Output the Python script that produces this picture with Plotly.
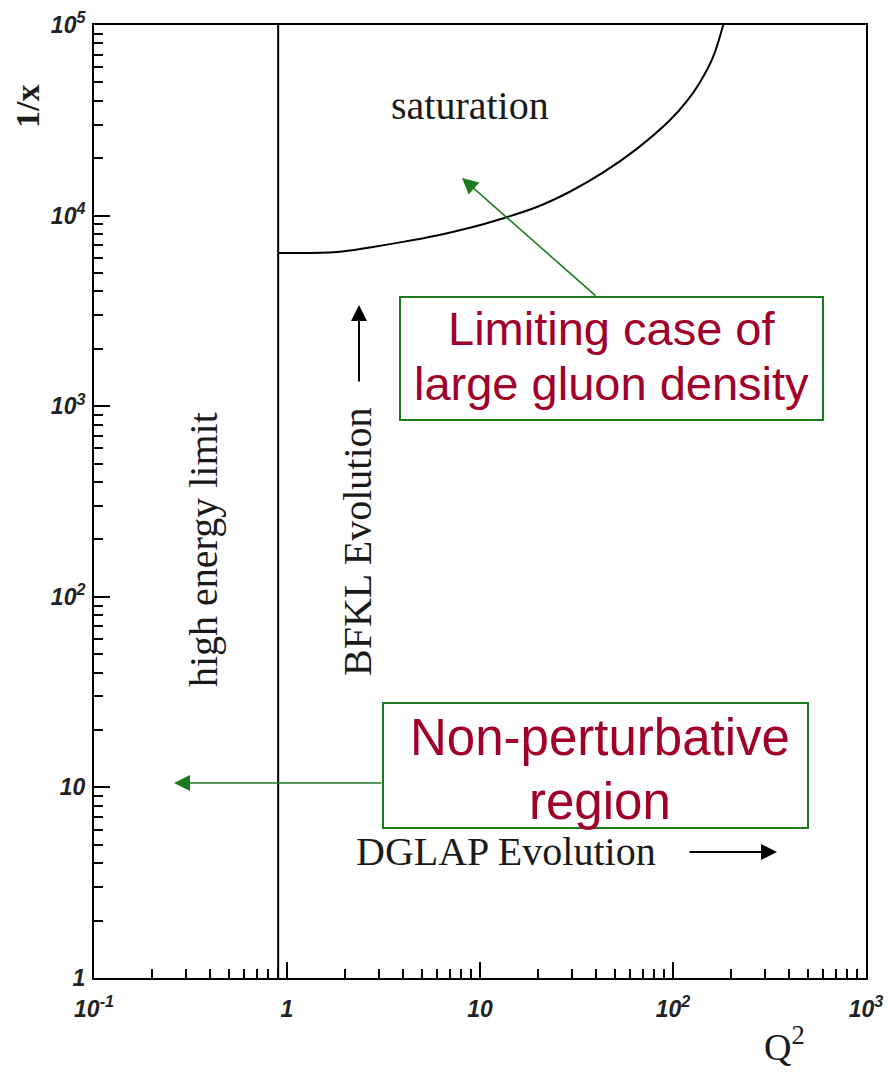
import plotly.graph_objects as go

# ---------------- data ----------------
# boundary between non-perturbative region and perturbative region (Q^2 ~ 0.9)
boundary_q2 = [0.9, 0.9]
boundary_inv_x = [1, 1e5]

# saturation boundary curve (Q^2, 1/x)
sat_q2 = [0.9, 1.82, 2.69, 3.99, 5.98, 8.87, 13.1, 19.7, 29.2, 43.3, 64.9, 96.3, 118.0, 138.0, 161.0, 182.0]
sat_inv_x = [6370, 6440, 6810, 7280, 7870, 8630, 9660, 11090, 13340, 16790, 22390, 31620, 39810, 50120, 67610, 100000]

x_tickvals = [0.1, 1, 10, 100, 1000]
x_ticktext = ["10<sup>-1</sup>", "1", "10", "10<sup>2</sup>", "10<sup>3</sup>"]
y_tickvals = [1, 10, 100, 1000, 10000, 100000]
y_ticktext = ["1", "10", "10<sup>2</sup>", "10<sup>3</sup>", "10<sup>4</sup>", "10<sup>5</sup>"]

x_minor = [k * d for d in [0.1, 1, 10, 100] for k in range(2, 10)]
y_minor = [k * d for d in [1, 10, 100, 1000, 10000] for k in range(2, 10)]

# ---------------- geometry helpers (pixel -> paper) ----------------
W, H = 891, 1073
L, R, T, B = 94, 25, 25, 95
PW, PH = W - L - R, H - T - B


def px(x):
    return (x - L) / PW


def py(y):
    return (H - B - y) / PH


SERIF = "Liberation Serif"
SANS = "Liberation Sans"
DARKRED = "#A0002A"
GREEN = "#1B7A1B"
INK = "#1a1a1a"

fig = go.Figure()
fig.add_trace(go.Scatter(x=boundary_q2, y=boundary_inv_x, mode="lines",
                         line=dict(color="black", width=2), hoverinfo="skip"))
fig.add_trace(go.Scatter(x=sat_q2, y=sat_inv_x, mode="lines",
                         line=dict(color="black", width=2, shape="spline", smoothing=1.0),
                         hoverinfo="skip"))

axis_common = dict(
    showgrid=False, zeroline=False, showline=True, linecolor="black", linewidth=2,
    mirror=True, ticks="inside", ticklen=16, tickwidth=2, tickcolor="black",
    tickmode="array", automargin=False,
    tickfont=dict(family=SANS, size=23, color="#222", style="italic", weight="bold"),
)

fig.update_xaxes(type="log", range=[-1, 3], tickvals=x_tickvals, ticktext=x_ticktext,
                 ticklabelstandoff=9,
                 minor=dict(tickmode="array", tickvals=x_minor, ticks="inside",
                            ticklen=9, tickwidth=2, tickcolor="black"),
                 **axis_common)
fig.update_yaxes(type="log", range=[0, 5], tickvals=y_tickvals, ticktext=y_ticktext,
                 ticklabelstandoff=2,
                 minor=dict(tickmode="array", tickvals=y_minor, ticks="inside",
                            ticklen=9, tickwidth=2, tickcolor="black"),
                 **axis_common)

shapes = [
    dict(type="rect", xref="paper", yref="paper", x0=px(400), x1=px(823), y0=py(420), y1=py(297),
         line=dict(color=GREEN, width=2), fillcolor="white", layer="above"),
    dict(type="rect", xref="paper", yref="paper", x0=px(383), x1=px(808), y0=py(828), y1=py(703),
         line=dict(color=GREEN, width=2), fillcolor="white", layer="above"),
]

ann = []


def text(x, y, s, size, color=INK, family=SERIF, angle=0, **kw):
    ann.append(dict(xref="paper", yref="paper", x=px(x), y=py(y), text=s, showarrow=False,
                    textangle=angle, xanchor="center", yanchor="middle",
                    font=dict(family=family, size=size, color=color), **kw))


def arrow(tipx, tipy, tailx, taily, color, width, head, size):
    ann.append(dict(xref="paper", yref="paper", x=px(tipx), y=py(tipy), text="",
                    showarrow=True, ax=tailx - tipx, ay=taily - tipy,
                    arrowcolor=color, arrowwidth=width, arrowhead=head, arrowsize=size,
                    standoff=0, startstandoff=0))


text(470, 106, "saturation", 40)
text(203, 550, "high energy limit", 40, angle=-90)
text(357, 542, "BFKL Evolution", 40, angle=-90)
text(506, 851, "DGLAP Evolution", 40)
text(28, 107, "<b>1/x</b>", 34, angle=-90)
text(784, 1044, "Q<sup>2</sup>", 38)

text(611, 328, "Limiting case of", 47, color=DARKRED, family=SANS)
text(611, 383, "large gluon density", 47, color=DARKRED, family=SANS)
text(600, 737, "Non-perturbative", 51, color=DARKRED, family=SANS)
text(600, 801, "region", 51, color=DARKRED, family=SANS)

arrow(359, 305, 359, 383, "black", 2, 2, 1.6)
arrow(777, 852, 688, 852, "black", 2, 2, 1.6)
arrow(462, 178, 597, 297, GREEN, 1.6, 2, 2.0)
arrow(174, 783, 383, 783, GREEN, 1.6, 2, 2.0)

fig.update_layout(
    width=W, height=H, margin=dict(l=L, r=R, t=T, b=B),
    paper_bgcolor="white", plot_bgcolor="white", showlegend=False,
    shapes=shapes, annotations=ann,
)

fig.write_html("out.html")
